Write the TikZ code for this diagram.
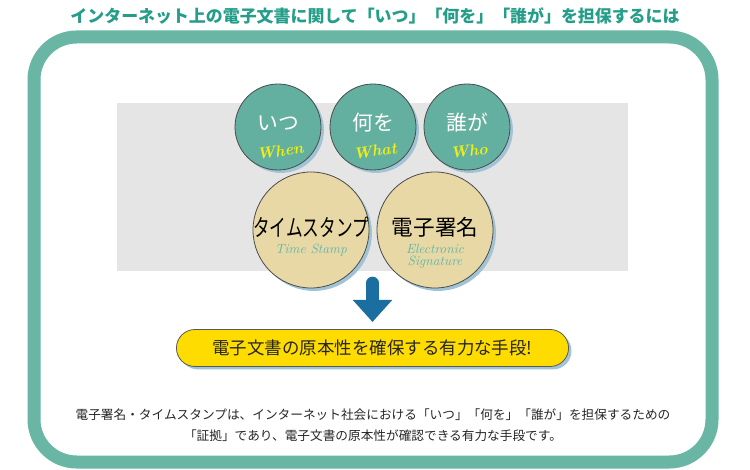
\documentclass[tikz,border=0pt]{standalone}
\usepackage{graphicx}
\usepackage{fontspec}
\newfontfamily\jpfont{Noto Sans CJK JP}
\usetikzlibrary{shadows,arrows.meta,shapes.misc}

\definecolor{frameteal}{RGB}{106,182,165}
\definecolor{titleteal}{RGB}{36,158,136}
\definecolor{circteal}{RGB}{100,176,160}
\definecolor{circtan}{RGB}{231,216,166}
\definecolor{panelgray}{RGB}{229,229,229}
\definecolor{shadowblue}{RGB}{160,196,214}
\definecolor{pillyellow}{RGB}{255,220,0}
\definecolor{arrowblue}{RGB}{26,110,160}
\definecolor{engyellow}{RGB}{240,238,20}
\definecolor{engteal}{RGB}{96,184,168}

\tikzset{every picture/.style={line width=0.75pt},
  blueshadow/.style={drop shadow={shadow xshift=2.2pt, shadow yshift=-2.2pt, fill=shadowblue, opacity=1}},
  askcircle/.style={circle, draw=black!70, line width=0.6pt, fill=circteal, minimum size=64.5pt, inner sep=0pt, blueshadow},
  toolcircle/.style={circle, draw=black!70, line width=0.6pt, fill=circtan, minimum size=87pt, inner sep=0pt, blueshadow},
  asklabel/.style={text=white, inner sep=1pt, font=\jpfont\fontsize{15.6}{16}\selectfont},
  engask/.style={text=engyellow, inner sep=1pt, font=\fontsize{12}{12}\selectfont\itshape\bfseries, rotate=8},
  toollabel/.style={text=black, inner sep=1pt, font=\jpfont\fontsize{16}{17}\selectfont},
  engtool/.style={text=engteal, inner sep=0pt, font=\fontsize{10}{10}\selectfont\itshape},
}

\begin{document}
\begin{tikzpicture}[x=0.75pt,y=0.75pt,yscale=-1,xscale=1]
	\useasboundingbox (0,0) rectangle (750,470);

	% Text Node
	\node[text=titleteal, font=\jpfont\bfseries\fontsize{12.7}{14}\selectfont] (title) at (375,16) {インターネット上の電子文書に関して「いつ」「何を」「誰が」を担保するには};

	%Shape: Rounded Rect [id:frame] 
	\draw[frameteal, line width=9.75pt, rounded corners=32] (34,37) rectangle (712,462);
	%Shape: Rectangle [id:panel] 
	\fill[panelgray] (117,103) rectangle (628,271);

	%Shape: Circle [id:when] 
	\node[askcircle] (itsu) at (278,127) {};
	\node[askcircle] (nani) at (373,127) {};
	\node[askcircle] (dare) at (467,127) {};
	% Text Node
	\node[asklabel] (itsuj) at (278,123) {いつ};
	\node[engask] (itsue) at (280,151) {When};
	\node[asklabel] (nanij) at (373,123) {何を};
	\node[engask] (nanie) at (375,151) {What};
	\node[asklabel] (darej) at (467,123) {誰が};
	\node[engask] (daree) at (469,151) {Who};

	%Shape: Circle [id:tools] 
	\node[toolcircle] (stamp) at (311,230) {};
	\node[toolcircle] (sign) at (435,230) {};
	% Text Node
	\node[toollabel] (stampj) at (311,227) {\scalebox{0.78}[1.1]{タイムスタンプ}};
	\node[engtool] (stampe) at (311,250) {Time Stamp};
	\node[toollabel, font=\jpfont\fontsize{16.2}{17}\selectfont] (signj) at (435,227) {電子署名};
	\node[engtool] (signe1) at (435,249) {Electronic};
	\node[engtool] (signe2) at (435,262.5) {Signature};

	%Shape: Rounded Rect [id:pill] 
	\node[rounded rectangle, draw=black!65, line width=0.6pt, fill=pillyellow, minimum width=300.75pt, minimum height=27.75pt, blueshadow, font=\jpfont\fontsize{13.1}{14}\selectfont, text=black!85] (pill) at (372.5,348) {電子文書の原本性を確保する有力な手段!};

	%Straight Lines [id:arrow] 
	\coordinate (arrowtop) at (372.5,283);
	\coordinate (arrowtip) at (372.5,322);
	\draw[arrowblue, line width=9.5pt, line cap=round, -{Triangle[width=28.5pt, length=16.5pt]}] (arrowtop) -- (arrowtip);

	% Text Node
	\node[align=center, font=\jpfont\fontsize{9.5}{15.75}\selectfont, text=black!85] (note) at (373,425) {電子署名・タイムスタンプは、インターネット社会における「いつ」「何を」「誰が」を担保するための\\「証拠」であり、電子文書の原本性が確認できる有力な手段です。};

\end{tikzpicture}
\end{document}
